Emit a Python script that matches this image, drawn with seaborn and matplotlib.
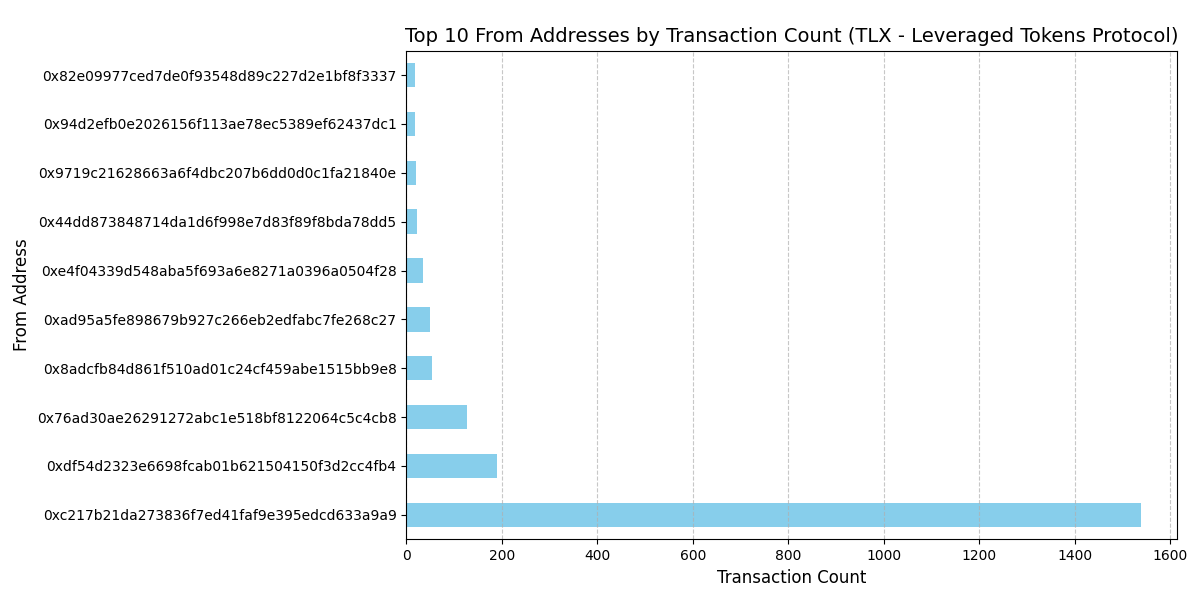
import pandas as pd
import matplotlib
matplotlib.use("Agg")
import matplotlib.pyplot as plt
import seaborn as sns

# top-to-bottom order as shown in the chart
addresses = [
    "0x82e09977ced7de0f93548d89c227d2e1bf8f3337",
    "0x94d2efb0e2026156f113ae78ec5389ef62437dc1",
    "0x9719c21628663a6f4dbc207b6dd0d0c1fa21840e",
    "0x44dd873848714da1d6f998e7d83f89f8bda78dd5",
    "0xe4f04339d548aba5f693a6e8271a0396a0504f28",
    "0xad95a5fe898679b927c266eb2edfabc7fe268c27",
    "0x8adcfb84d861f510ad01c24cf459abe1515bb9e8",
    "0x76ad30ae26291272abc1e518bf8122064c5c4cb8",
    "0xdf54d2323e6698fcab01b621504150f3d2cc4fb4",
    "0xc217b21da273836f7ed41faf9e395edcd633a9a9",
]
tx_counts = [18, 18, 20, 22, 35, 49, 53, 127, 190, 1538]


def create_chart():
    df = pd.DataFrame({"from_address": addresses, "tx_count": tx_counts})

    plt.figure(figsize=(12, 6), dpi=100)
    ax = sns.barplot(data=df, y="from_address", x="tx_count", order=addresses,
                     color="skyblue", saturation=1, width=0.5, orient="h")
    ax.set_xlim(0, max(tx_counts) * 1.05)
    plt.title("Top 10 From Addresses by Transaction Count (TLX - Leveraged Tokens Protocol)", fontsize=14)
    plt.xlabel("Transaction Count", fontsize=12)
    plt.ylabel("From Address", fontsize=12)
    plt.grid(axis="x", linestyle="--", alpha=0.7)
    plt.subplots_adjust(left=0.3386, right=0.9811, top=0.9155, bottom=0.1012)
    plt.savefig("out.png", dpi=100)
    plt.close()


if __name__ == "__main__":
    create_chart()
